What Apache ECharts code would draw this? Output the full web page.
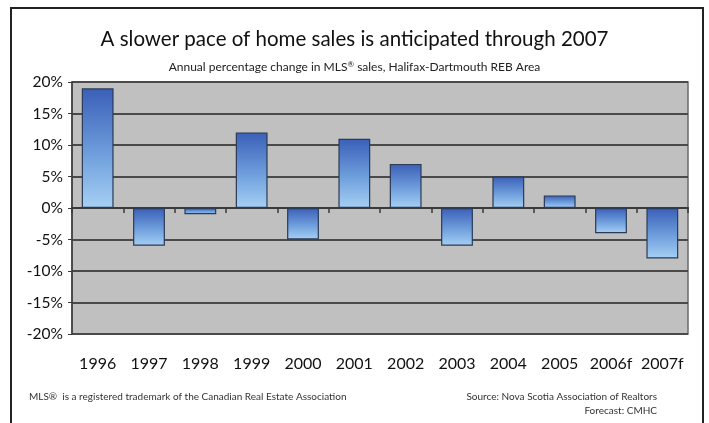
<!DOCTYPE html>
<html>
<head>
<meta charset="utf-8">
<script src="https://cdn.jsdelivr.net/npm/echarts@6/dist/echarts.min.js"></script>
<style>
  html, body { margin: 0; padding: 0; background: #fff; }
  #chart { width: 709px; height: 423px; }
</style>
</head>
<body>
<div id="chart"></div>
<script>
// Annual percentage change in MLS® sales, Halifax-Dartmouth REB Area
const years = ['1996', '1997', '1998', '1999', '2000', '2001', '2002', '2003', '2004', '2005', '2006f', '2007f'];
const salesChange = [19, -6, -1, 12, -5, 11, 7, -6, 5, 2, -4, -8];
const yTicks = { min: -20, max: 20, step: 5 };

const FONT = 'Lato, "Open Sans", sans-serif';
const chart = echarts.init(document.getElementById('chart'), null, { renderer: 'canvas' });

const barFill = new echarts.graphic.LinearGradient(0, 0, 0, 1, [
  { offset: 0, color: '#3a5fb8' },
  { offset: 0.55, color: '#6f9edc' },
  { offset: 1, color: '#a6d0f4' }
]);

chart.setOption({
  backgroundColor: '#ffffff',
  animation: false,
  title: [
    {
      text: 'A slower pace of home sales is anticipated through 2007',
      left: 'center', top: 24,
      textStyle: { fontFamily: FONT, fontSize: 20.5, fontWeight: 'normal', color: '#111' }
    },
    {
      text: 'Annual percentage change in MLS{sup|®} sales, Halifax-Dartmouth REB Area',
      left: 'center', top: 55,
      textStyle: {
        fontFamily: FONT, fontSize: 12, fontWeight: 'normal', color: '#222',
        rich: { sup: { fontFamily: FONT, fontSize: 8, verticalAlign: 'top', padding: [0, 0, 6, 0], color: '#222' } }
      }
    }
  ],
  graphic: [
    // outer frame
    {
      type: 'polyline', silent: true,
      shape: { points: [[11, 430], [11, 8], [703, 8], [703, 430]] },
      style: { stroke: '#222', lineWidth: 2, fill: null }
    },
    {
      type: 'text', left: 29, top: 392,
      style: { text: 'MLS®  is a registered trademark of the Canadian Real Estate Association', font: '10px ' + FONT, fill: '#333' }
    },
    {
      type: 'text', right: 52, top: 392,
      style: { text: 'Source: Nova Scotia Association of Realtors', font: '10px ' + FONT, fill: '#333', align: 'right' }
    },
    {
      type: 'text', right: 52, top: 406,
      style: { text: 'Forecast: CMHC', font: '10px ' + FONT, fill: '#333', align: 'right' }
    }
  ],
  grid: {
    left: 72, top: 82, width: 616, height: 252,
    show: true, backgroundColor: '#c0c0c0', borderColor: '#6a6a6a', borderWidth: 1.5
  },
  xAxis: [
    {
      type: 'category', data: years, position: 'bottom',
      axisLine: { show: false, onZero: false }, axisTick: { show: false },
      axisLabel: { interval: 0, margin: 22, fontFamily: FONT, fontSize: 16, color: '#111' },
      splitLine: { show: false }
    },
    {
      type: 'category', data: years, position: 'top',
      axisLine: { show: true, onZero: true, lineStyle: { color: '#3a3a3a', width: 2 } },
      axisTick: { show: true, inside: true, interval: 0, length: 5, lineStyle: { color: '#3a3a3a', width: 1.5 } },
      axisLabel: { show: false },
      splitLine: { show: false }
    }
  ],
  yAxis: {
    type: 'value', min: yTicks.min, max: yTicks.max, interval: yTicks.step,
    axisLine: { show: true, lineStyle: { color: '#3a3a3a', width: 1.5 } },
    axisTick: { show: true, length: 4, lineStyle: { color: '#3a3a3a' } },
    axisLabel: { margin: 9, fontFamily: FONT, fontSize: 15.5, color: '#111', formatter: v => v + '%' },
    splitLine: { show: true, lineStyle: { color: '#4a4a4a', width: 2 } }
  },
  series: [
    {
      type: 'bar', data: salesChange, xAxisIndex: 0,
      barCategoryGap: '38%',
      itemStyle: { color: barFill, borderColor: '#2b3a55', borderWidth: 1.2 }
    }
  ]
});
</script>
</body>
</html>
